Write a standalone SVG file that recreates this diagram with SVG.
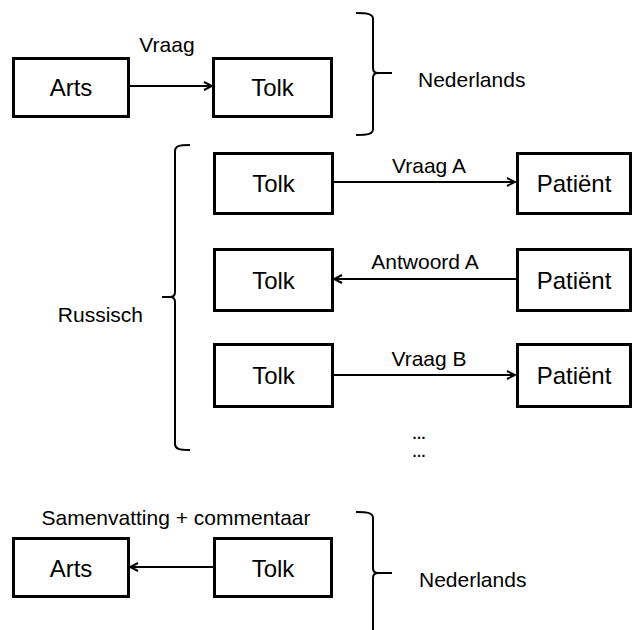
<svg xmlns="http://www.w3.org/2000/svg" width="633" height="630" viewBox="0 0 633 630">
<style>
  .box rect { fill: #ffffff; stroke: #000000; stroke-width: 3; }
  .box text { font-family: "Liberation Sans", Arial, sans-serif; font-size: 24px; fill: #000000; text-anchor: middle; }
  .lbl { font-family: "Liberation Sans", Arial, sans-serif; font-size: 21px; fill: #000000; }
  .dots { font-family: "Liberation Sans", Arial, sans-serif; font-size: 14px; font-weight: bold; fill: #000000; text-anchor: middle; }
  .conn { stroke: #000000; stroke-width: 2; fill: none; }
  .brace { stroke: #000000; stroke-width: 2; fill: none; }
</style>
<defs>
  <marker id="arr" viewBox="0 0 10 10" refX="9" refY="5" markerWidth="10" markerHeight="10" markerUnits="userSpaceOnUse" orient="auto">
    <path d="M1,1 L9,5 L1,9" fill="none" stroke="#000000" stroke-width="2"/>
  </marker>
</defs>
<rect width="633" height="630" fill="#ffffff"/>

<g id="arts1" class="box"><rect x="13.5" y="58.5" width="115" height="58"/><text x="71" y="96">Arts</text></g>
<g id="tolk1" class="box"><rect x="213.5" y="58.5" width="118" height="58"/><text x="272.5" y="96">Tolk</text></g>

<g id="tolkA" class="box"><rect x="214.5" y="153.5" width="118" height="60"/><text x="273.5" y="192">Tolk</text></g>
<g id="patA" class="box"><rect x="517.5" y="153.5" width="113" height="60"/><text x="574" y="192">Patiënt</text></g>
<g id="tolkB" class="box"><rect x="214.5" y="249.5" width="118" height="61"/><text x="273.5" y="289">Tolk</text></g>
<g id="patB" class="box"><rect x="517.5" y="249.5" width="113" height="61"/><text x="574" y="289">Patiënt</text></g>
<g id="tolkC" class="box"><rect x="214.5" y="344.5" width="118" height="62"/><text x="273.5" y="384">Tolk</text></g>
<g id="patC" class="box"><rect x="517.5" y="344.5" width="113" height="62"/><text x="574" y="384">Patiënt</text></g>

<g id="arts2" class="box"><rect x="13.5" y="538.5" width="115" height="58"/><text x="71" y="577">Arts</text></g>
<g id="tolk2" class="box"><rect x="214.5" y="538.5" width="117" height="58"/><text x="273" y="577">Tolk</text></g>

<g id="connectors">
  <line class="conn" x1="130" y1="86" x2="212" y2="86" marker-end="url(#arr)"/>
  <line class="conn" x1="334" y1="182" x2="515" y2="182" marker-end="url(#arr)"/>
  <line class="conn" x1="516" y1="279" x2="334" y2="279" marker-end="url(#arr)"/>
  <line class="conn" x1="334" y1="375" x2="515" y2="375" marker-end="url(#arr)"/>
  <line class="conn" x1="213" y1="567" x2="130" y2="567" marker-end="url(#arr)"/>
</g>

<g id="labels">
  <text class="lbl" x="167" y="52" text-anchor="middle">Vraag</text>
  <text class="lbl" x="429" y="173" text-anchor="middle">Vraag A</text>
  <text class="lbl" x="425" y="269" text-anchor="middle">Antwoord A</text>
  <text class="lbl" x="429" y="366" text-anchor="middle">Vraag B</text>
  <text class="lbl" x="176" y="525" text-anchor="middle">Samenvatting + commentaar</text>
  <text class="lbl" x="418" y="87">Nederlands</text>
  <text class="lbl" x="143" y="322" text-anchor="end">Russisch</text>
  <text class="lbl" x="419" y="587">Nederlands</text>
  <text class="dots" x="419" y="439">…</text>
  <text class="dots" x="419" y="457">…</text>
</g>

<g id="braces">
  <path class="brace" d="M356,13 C368,13 373,14 373,19 V68 Q373,73 378,73 H392 M378,73 Q373,73 373,78 V129 C373,134 368,135 356,135"/>
  <path class="brace" d="M190,145 C179,145 175,146 175,151 V292 Q175,297 170,297 H162 M170,297 Q175,297 175,302 V444 C175,449 179,450 190,450"/>
  <path class="brace" d="M356,512 C368,512 373,513 373,518 V568 Q373,573 378,573 H392 M378,573 Q373,573 373,578 V632"/>
</g>
</svg>
